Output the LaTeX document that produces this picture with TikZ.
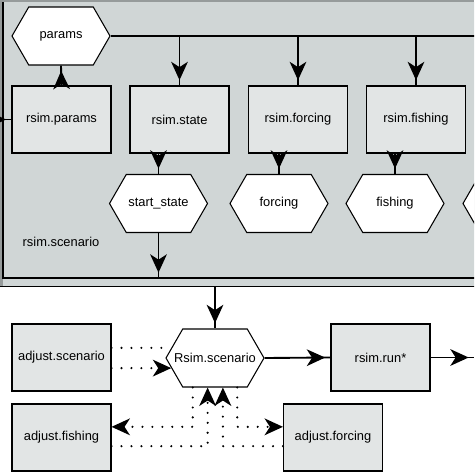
\documentclass[tikz,border=0pt]{standalone}
\usepackage{fontspec}
\setmainfont{Liberation Sans}
\usetikzlibrary{arrows.meta,shapes.symbols,decorations.markings}
\definecolor{bgframe}{RGB}{208,214,214}
\definecolor{boxfill}{RGB}{226,229,229}
\definecolor{framegray}{RGB}{150,155,155}
\tikzset{
  txt/.style={font=\fontsize{11}{13}\selectfont},
  fbox/.style={txt, draw=black, line width=0.9pt, fill=boxfill, minimum width=2.97cm, minimum height=2.01cm, inner sep=0pt},
  hexa/.style={txt, signal, signal to=east and west, signal pointer angle=120, draw=black, line width=0.9pt, fill=white, minimum width=2.94cm, minimum height=1.74cm, inner sep=0pt},
  conn/.style={line width=1.6pt},
  bigtip/.tip={Stealth[length=0.55cm,width=0.5cm,inset=0.16cm]},
  midarr/.style={postaction={decorate}, decoration={markings, mark=at position -0.16cm with {\arrow{bigtip}}}},
  dots/.style={line width=2pt, line cap=round, dash pattern=on 0pt off 8.5pt},
  dtip/.style={-{Stealth[length=0.55cm,width=0.5cm,inset=0.16cm]}},
}
\begin{document}
\begin{tikzpicture}[x=0.03cm,y=-0.03cm]
\useasboundingbox (0,0) rectangle (474,474);
\clip (0,0) rectangle (474,474);
% frame
\fill[framegray] (0,0) rectangle (474,286);
\fill[bgframe] (3,2) rectangle (480,285.5);
\draw[line width=0.8pt] (0,286) -- (480,286);
\draw[conn] (3,2) -- (3,278) -- (480,278);
% nodes
\node[hexa] (params) at (61,36) {\makebox[0pt]{params}};
\node[fbox] (rpar) at (61.5,119.5) {rsim.params};
\node[fbox] (rstate) at (179.5,119.5) {rsim.state};
\node[fbox] (rforc) at (298,119.5) {rsim.forcing};
\node[fbox] (rfish) at (416,119.5) {rsim.fishing};
\node[hexa] (sstate) at (158.5,203.5) {\makebox[0pt]{start\_state}};
\node[hexa] (forc) at (279,203.5) {\makebox[0pt]{forcing}};
\node[hexa] (fish) at (395,203.5) {\makebox[0pt]{fishing}};
\node[hexa] (nexthex) at (512,203.5) {};
\node[txt] (scenlbl) at (61,242) {rsim.scenario};
\node[hexa] (Rscen) at (215,358) {\makebox[0pt]{Rsim.scenario}};
\node[fbox] (rrun) at (380.5,357.5) {rsim.run*};
\node[fbox] (adjscen) at (61.5,357.5) {adjust.scenario};
\node[fbox] (adjfish) at (61.5,437.5) {adjust.fishing};
\node[fbox] (adjforc) at (333,437.5) {adjust.forcing};
% coordinates
\coordinate (pright) at (480,36);
\coordinate (lframe) at (3,119.5);
\coordinate (bus) at (158.5,278);
\coordinate (busout) at (215,286);
\coordinate (runout) at (474,357.5);
% connectors
\draw[conn] (params.east) -- (pright);
\draw[conn,midarr] (rstate.north |- params.east) -- (rstate.north);
\draw[conn,midarr] (rforc.north |- params.east) -- (rforc.north);
\draw[conn,midarr] (rfish.north |- params.east) -- (rfish.north);
\draw[conn,midarr] (rpar.north) -- (params.south);
\draw[conn,midarr] (lframe) -- (rpar.west);
\draw[conn,midarr] (sstate.north |- rstate.south) -- (sstate.north);
\draw[conn,midarr] (forc.north |- rforc.south) -- (forc.north);
\draw[conn,midarr] (fish.north |- rfish.south) -- (fish.north);
\draw[conn,midarr] (sstate.south) -- (bus);
\draw[conn,midarr] (busout) -- (Rscen.north);
\draw[conn,midarr] (Rscen.east) -- (rrun.west);
\draw[conn,midarr] (rrun.east) -- (runout);
% dotted
\draw[dots] (adjscen.east |- Rscen.167) -- (Rscen.167);
\draw[dots,dtip] (adjscen.east |- Rscen.193) -- (Rscen.193);
\draw[dots,dtip] (Rscen.233) |- ([yshift=0.32cm]adjfish.east);
\draw[dots,dtip] (Rscen.307) |- ([yshift=0.32cm]adjforc.west);
\draw[dots,dtip] ([yshift=-0.26cm]adjfish.east) -| (Rscen.256);
\draw[dots,dtip] ([yshift=-0.26cm]adjforc.west) -| (Rscen.285);
\end{tikzpicture}
\end{document}
